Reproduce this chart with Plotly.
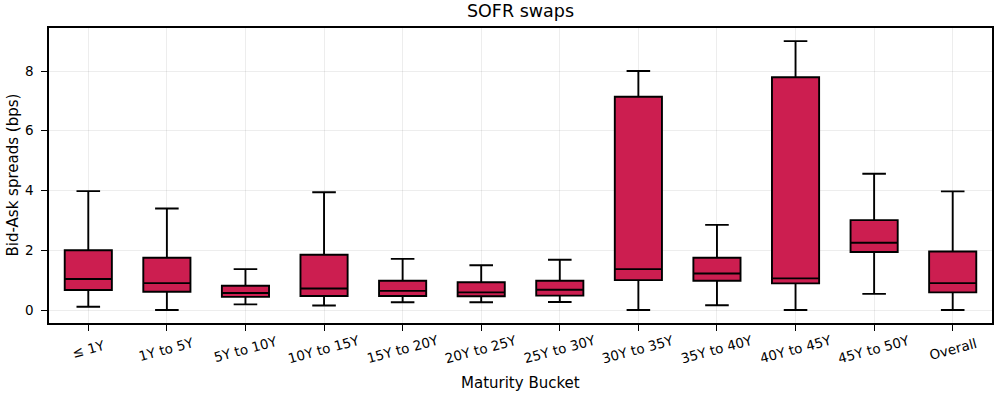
import plotly.graph_objects as go

categories = ["≤ 1Y", "1Y to 5Y", "5Y to 10Y", "10Y to 15Y", "15Y to 20Y", "20Y to 25Y",
              "25Y to 30Y", "30Y to 35Y", "35Y to 40Y", "40Y to 45Y", "45Y to 50Y", "Overall"]
lower_whisker = [0.11, 0.0, 0.19, 0.15, 0.26, 0.26, 0.27, 0.0, 0.16, 0.0, 0.54, 0.0]
q1_values = [0.67, 0.61, 0.44, 0.47, 0.47, 0.46, 0.48, 1.0, 0.98, 0.89, 1.94, 0.59]
median_values = [1.04, 0.90, 0.57, 0.72, 0.64, 0.59, 0.68, 1.37, 1.22, 1.06, 2.25, 0.90]
q3_values = [2.0, 1.75, 0.81, 1.85, 0.98, 0.93, 0.98, 7.14, 1.75, 7.79, 3.01, 1.96]
upper_whisker = [3.98, 3.40, 1.37, 3.94, 1.71, 1.50, 1.68, 8.0, 2.85, 9.0, 4.56, 3.97]
y_ticks = [0, 2, 4, 6, 8]

FONT = "DejaVu Sans"

fig = go.Figure()
fig.add_trace(go.Box(
    x=categories,
    q1=q1_values, median=median_values, q3=q3_values,
    lowerfence=lower_whisker, upperfence=upper_whisker,
    fillcolor="#CC1E50",
    line=dict(color="black", width=1.9),
    width=0.6,
    whiskerwidth=0.5,
    boxpoints=False,
    showlegend=False,
    hoverinfo="skip",
))

# rotated, centred tick labels
annotations = [
    dict(x=c, y=0, xref="x", yref="paper", text=c, showarrow=False,
         textangle=-15, xanchor="center", yanchor="middle", yshift=-26,
         font=dict(size=13.5, family=FONT, color="black"))
    for c in categories
]
annotations.append(dict(x=0.5, y=0, xref="paper", yref="paper", text="Maturity Bucket",
                        showarrow=False, xanchor="center", yanchor="middle", yshift=-60,
                        font=dict(size=15, family=FONT, color="black")))
annotations.append(dict(x=0, y=0.5, xref="paper", yref="paper", text="Bid-Ask spreads (bps)",
                        showarrow=False, textangle=-90, xanchor="center", yanchor="middle",
                        xshift=-37, font=dict(size=15, family=FONT, color="black")))

fig.update_layout(
    width=996, height=395,
    margin=dict(l=49, r=4, t=28, b=72),
    paper_bgcolor="white", plot_bgcolor="white",
    font=dict(family=FONT, color="black", size=13),
    title=dict(text="SOFR swaps", x=0.5, xref="paper", xanchor="center",
               y=1 - 11 / 395, yref="container", yanchor="middle",
               font=dict(size=17.5, family=FONT)),
    annotations=annotations,
    xaxis=dict(
        type="category", range=[-0.5, 11.5], automargin=False,
        showline=True, linecolor="black", linewidth=1.6, mirror=True,
        ticks="outside", ticklen=6, tickcolor="black", tickwidth=1.3,
        showticklabels=False,
        showgrid=True, gridcolor="rgba(0,0,0,0.07)", gridwidth=1,
    ),
    yaxis=dict(
        range=[-0.435, 9.44], tickvals=y_ticks, automargin=False,
        showline=True, linecolor="black", linewidth=1.6, mirror=True,
        ticks="outside", ticklen=6, tickcolor="black", tickwidth=1.3,
        tickfont=dict(size=13.5), ticklabelstandoff=5,
        showgrid=True, gridcolor="rgba(0,0,0,0.07)", gridwidth=1,
        zeroline=False,
    ),
)

fig.write_html("out.html", config={"displayModeBar": False},
               post_script="document.body.style.margin='0';")
